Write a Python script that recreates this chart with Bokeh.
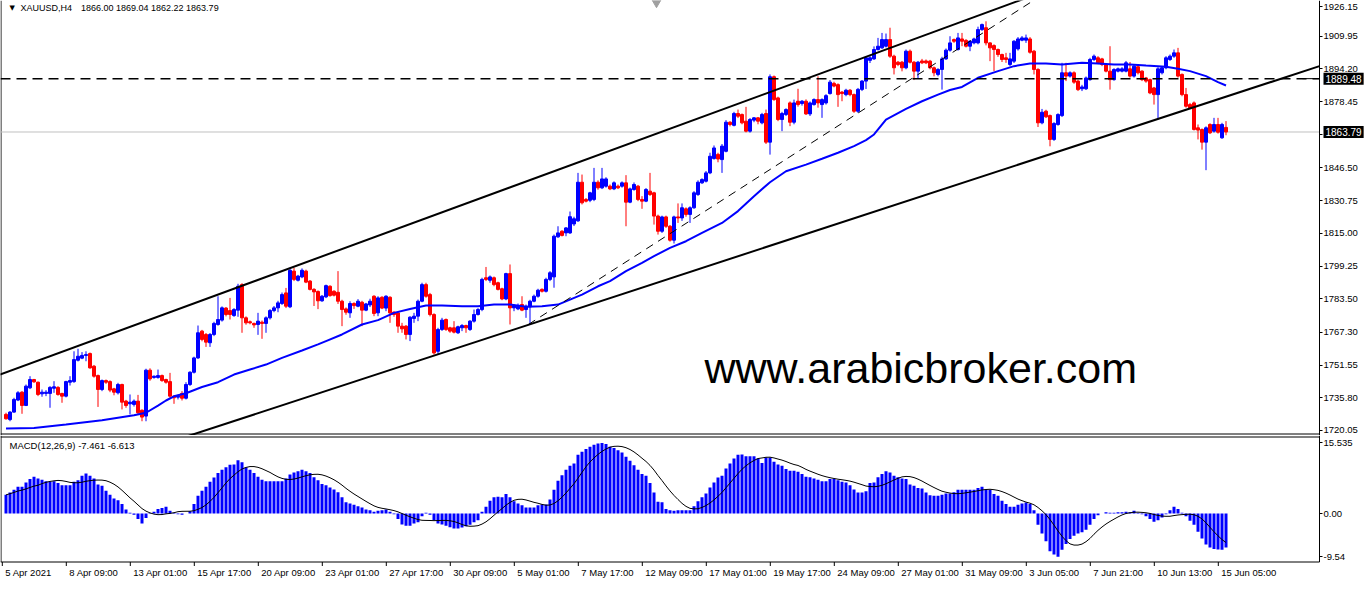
import json
import numpy as np
import pandas as pd
from bokeh.plotting import figure
from bokeh.layouts import column
from bokeh.models import (Range1d, FixedTicker, Label, ColumnDataSource, LinearAxis,
                          CustomJSTickFormatter)
from bokeh.embed import file_html
from bokeh.resources import INLINE

# ---------------- data (XAUUSD H4) ----------------
open_ = [
    1727.8, 1725.3, 1728.9, 1734.7, 1738.5, 1732.1, 1740.6, 1744.6, 1743.3, 1737.7,
    1737.9, 1737.9, 1740.4, 1740.8, 1737.9, 1736.6, 1743.3, 1743.6, 1753.9, 1754.9,
    1756.2, 1757.1, 1751.0, 1746.5, 1739.8, 1744.1, 1743.6, 1740.1, 1738.2, 1742.2,
    1734.2, 1732.9, 1732.6, 1734.2, 1729.8, 1727.0, 1749.1, 1745.6, 1745.6, 1746.5,
    1744.6, 1743.6, 1736.6, 1736.1, 1737.9, 1735.6, 1742.2, 1748.1, 1755.0, 1767.9,
    1766.3, 1762.3, 1766.3, 1771.1, 1773.2, 1779.0, 1777.8, 1775.4, 1778.0, 1790.3,
    1774.3, 1772.4, 1771.6, 1771.1, 1772.2, 1771.6, 1774.3, 1777.8, 1779.1, 1781.2,
    1786.3, 1779.6, 1796.8, 1792.4, 1794.0, 1796.8, 1792.0, 1788.0, 1787.0, 1782.5,
    1784.4, 1789.5, 1787.1, 1786.6, 1782.3, 1778.6, 1776.7, 1781.2, 1779.9, 1781.8,
    1778.0, 1780.5, 1784.7, 1776.7, 1784.2, 1779.0, 1784.2, 1777.0, 1776.7, 1770.3,
    1770.3, 1766.3, 1774.0, 1775.1, 1782.3, 1790.3, 1785.5, 1775.9, 1758.2, 1768.7,
    1773.5, 1769.5, 1769.5, 1767.1, 1769.5, 1770.6, 1768.7, 1772.7, 1775.9, 1778.3,
    1793.6, 1792.4, 1793.6, 1791.2, 1788.3, 1783.4, 1795.6, 1779.1, 1778.6, 1780.7,
    1778.3, 1779.6, 1782.3, 1784.7, 1788.0, 1787.1, 1792.8, 1794.0, 1813.3, 1816.0,
    1815.2, 1815.2, 1819.5, 1821.0, 1839.6, 1831.3, 1830.9, 1831.3, 1839.6, 1836.9,
    1837.7, 1837.7, 1836.4, 1837.7, 1837.7, 1839.3, 1830.0, 1836.1, 1837.7, 1831.3,
    1830.5, 1835.3, 1834.5, 1823.3, 1816.0, 1822.9, 1818.4, 1811.7, 1822.9, 1822.4,
    1826.8, 1824.1, 1827.3, 1833.7, 1839.3, 1840.1, 1844.1, 1851.0, 1853.0, 1850.5,
    1854.5, 1868.5, 1867.0, 1872.7, 1872.2, 1869.0, 1864.2, 1869.5, 1870.6, 1868.2,
    1872.7, 1858.9, 1890.4, 1880.2, 1869.8, 1872.2, 1877.8, 1868.5, 1878.6, 1877.5,
    1878.6, 1872.5, 1877.0, 1879.4, 1877.0, 1877.8, 1882.3, 1887.2, 1886.6, 1883.0,
    1881.8, 1883.9, 1881.8, 1873.8, 1884.3, 1888.3, 1898.3, 1899.0, 1903.5, 1904.3,
    1905.1, 1908.3, 1900.3, 1897.4, 1897.4, 1894.7, 1902.7, 1897.4, 1893.1, 1898.0,
    1898.0, 1897.9, 1894.7, 1891.5, 1893.9, 1899.0, 1903.2, 1908.3, 1903.5, 1908.6,
    1907.9, 1905.1, 1906.7, 1906.7, 1913.1, 1914.0, 1906.7, 1905.4, 1903.5, 1901.1,
    1899.5, 1896.3, 1897.9, 1903.8, 1908.0, 1908.0, 1908.6, 1902.7, 1893.9, 1868.2,
    1873.8, 1871.7, 1860.2, 1867.4, 1871.7, 1892.3, 1890.7, 1892.3, 1888.3, 1884.6,
    1884.6, 1889.0, 1898.7, 1899.5, 1899.0, 1896.3, 1893.1, 1889.0, 1893.1, 1893.1,
    1893.1, 1894.2, 1890.7, 1895.2, 1893.1, 1889.8, 1889.0, 1885.0, 1881.8, 1892.3,
    1894.7, 1898.7, 1900.3, 1901.9, 1891.5, 1881.8, 1877.0, 1877.8, 1865.8, 1865.0,
    1858.9, 1867.4, 1864.2, 1867.4, 1861.0, 1866.00]

high = [
    1728.6, 1729.4, 1735.8, 1739.0, 1739.0, 1742.2, 1746.2, 1744.9, 1743.6, 1739.8,
    1739.5, 1741.4, 1743.8, 1741.4, 1738.2, 1744.0, 1746.2, 1758.2, 1759.4, 1757.8,
    1758.2, 1757.6, 1751.6, 1747.0, 1744.6, 1744.6, 1744.2, 1740.6, 1743.0, 1742.6,
    1734.8, 1737.4, 1735.0, 1737.2, 1730.2, 1749.8, 1750.0, 1746.5, 1749.4, 1747.0,
    1745.0, 1747.8, 1737.0, 1737.2, 1739.0, 1743.3, 1748.6, 1755.6, 1770.6, 1768.5,
    1767.0, 1767.0, 1772.4, 1784.7, 1779.8, 1779.5, 1783.9, 1779.0, 1790.7, 1791.0,
    1775.0, 1773.0, 1772.0, 1776.7, 1773.0, 1775.0, 1778.5, 1780.0, 1782.5, 1786.5,
    1788.7, 1798.4, 1798.4, 1795.0, 1798.1, 1797.5, 1792.5, 1788.6, 1787.5, 1785.3,
    1790.3, 1790.0, 1787.6, 1796.8, 1783.0, 1779.3, 1782.3, 1781.8, 1783.3, 1782.5,
    1781.5, 1783.5, 1785.2, 1784.7, 1784.7, 1785.2, 1784.7, 1777.5, 1777.0, 1771.9,
    1770.8, 1775.1, 1776.7, 1783.1, 1791.2, 1791.2, 1786.3, 1776.5, 1769.5, 1774.3,
    1774.0, 1770.0, 1772.7, 1770.5, 1771.3, 1771.0, 1773.2, 1778.3, 1779.0, 1793.6,
    1798.8, 1794.7, 1794.2, 1791.7, 1788.8, 1796.0, 1800.0, 1780.7, 1781.2, 1784.7,
    1780.7, 1783.0, 1785.5, 1788.3, 1788.5, 1793.6, 1796.8, 1814.4, 1818.4, 1816.5,
    1818.0, 1825.5, 1823.0, 1844.1, 1843.3, 1832.0, 1835.0, 1846.5, 1840.5, 1846.5,
    1842.0, 1838.5, 1840.0, 1838.5, 1840.0, 1843.0, 1837.0, 1839.5, 1838.3, 1832.9,
    1836.8, 1844.1, 1835.0, 1824.0, 1823.5, 1823.5, 1819.0, 1823.5, 1829.4, 1829.4,
    1827.5, 1828.0, 1835.3, 1840.5, 1841.5, 1845.0, 1853.8, 1857.3, 1853.8, 1858.0,
    1869.5, 1869.0, 1873.5, 1874.6, 1872.7, 1875.9, 1870.5, 1871.0, 1871.0, 1873.0,
    1874.6, 1891.5, 1891.0, 1880.8, 1873.5, 1875.2, 1878.5, 1879.4, 1884.6, 1879.2,
    1879.5, 1878.5, 1880.0, 1890.6, 1880.0, 1882.0, 1888.8, 1888.0, 1887.2, 1883.5,
    1884.6, 1884.5, 1882.3, 1885.0, 1888.8, 1900.1, 1900.5, 1905.0, 1909.1, 1911.5,
    1911.2, 1914.0, 1901.0, 1898.0, 1898.0, 1903.5, 1903.5, 1898.0, 1898.0, 1899.0,
    1898.7, 1898.5, 1895.3, 1894.5, 1900.0, 1904.0, 1909.9, 1908.8, 1911.5, 1911.5,
    1908.5, 1908.0, 1909.2, 1914.5, 1916.0, 1917.1, 1907.0, 1906.0, 1904.0, 1901.5,
    1901.9, 1901.9, 1908.0, 1909.5, 1910.0, 1910.7, 1909.5, 1903.3, 1894.5, 1874.9,
    1874.5, 1872.2, 1868.5, 1872.8, 1897.1, 1897.1, 1893.0, 1893.0, 1889.0, 1886.5,
    1890.5, 1899.5, 1901.1, 1900.3, 1899.5, 1896.8, 1905.1, 1894.5, 1894.8, 1895.0,
    1898.0, 1897.5, 1896.5, 1895.8, 1893.5, 1890.3, 1889.5, 1885.5, 1895.0, 1895.5,
    1900.3, 1901.1, 1903.5, 1904.3, 1892.0, 1885.0, 1877.8, 1878.5, 1867.4, 1865.5,
    1866.5, 1868.0, 1870.6, 1870.6, 1868.2, 1869.04]

low = [
    1725.3, 1724.5, 1728.6, 1734.2, 1728.1, 1731.8, 1740.0, 1743.0, 1736.6, 1736.3,
    1736.6, 1731.0, 1738.2, 1736.8, 1733.4, 1736.0, 1741.7, 1743.0, 1753.3, 1754.4,
    1753.4, 1749.8, 1745.5, 1731.4, 1739.0, 1742.5, 1738.5, 1737.0, 1737.4, 1730.2,
    1731.0, 1727.8, 1731.6, 1727.8, 1724.5, 1724.5, 1744.0, 1745.0, 1745.0, 1743.5,
    1742.6, 1735.8, 1732.9, 1735.0, 1734.5, 1735.0, 1741.5, 1747.5, 1754.5, 1763.0,
    1760.3, 1760.3, 1765.5, 1770.5, 1772.5, 1775.0, 1773.5, 1774.8, 1774.8, 1767.1,
    1771.0, 1771.2, 1769.5, 1766.1, 1764.2, 1767.1, 1773.5, 1777.0, 1777.0, 1780.5,
    1779.0, 1779.0, 1792.0, 1791.8, 1793.4, 1791.0, 1787.5, 1780.0, 1778.5, 1782.0,
    1783.8, 1784.5, 1784.6, 1781.0, 1770.3, 1775.8, 1774.3, 1778.6, 1779.4, 1770.3,
    1777.5, 1779.5, 1775.1, 1775.1, 1778.5, 1777.5, 1771.9, 1774.8, 1767.1, 1767.1,
    1763.9, 1763.1, 1771.9, 1772.7, 1781.8, 1784.0, 1775.0, 1756.6, 1756.6, 1768.0,
    1768.0, 1767.1, 1766.8, 1766.5, 1767.9, 1767.1, 1768.0, 1772.0, 1775.4, 1777.5,
    1792.0, 1791.2, 1789.5, 1787.5, 1782.8, 1782.8, 1771.1, 1777.5, 1778.0, 1777.5,
    1774.3, 1771.1, 1781.8, 1784.0, 1786.5, 1786.5, 1792.0, 1788.8, 1812.8, 1813.5,
    1813.6, 1814.7, 1818.5, 1820.5, 1828.9, 1829.9, 1830.0, 1830.5, 1836.0, 1836.3,
    1837.0, 1835.8, 1835.8, 1836.3, 1837.0, 1818.4, 1829.5, 1835.5, 1830.5, 1826.8,
    1830.0, 1833.0, 1819.2, 1814.4, 1815.2, 1817.6, 1811.0, 1810.1, 1820.0, 1821.0,
    1823.0, 1820.0, 1826.8, 1833.0, 1838.8, 1839.5, 1843.5, 1850.5, 1849.2, 1844.1,
    1854.0, 1866.5, 1866.5, 1870.5, 1867.5, 1863.6, 1863.5, 1868.5, 1867.5, 1867.5,
    1858.0, 1852.9, 1878.8, 1869.0, 1864.2, 1871.5, 1866.6, 1867.5, 1876.0, 1876.5,
    1872.0, 1871.5, 1876.5, 1875.5, 1870.6, 1877.0, 1881.8, 1885.3, 1875.9, 1878.6,
    1881.0, 1881.0, 1873.0, 1873.0, 1883.5, 1884.5, 1897.0, 1898.5, 1903.0, 1903.8,
    1904.5, 1899.5, 1891.5, 1895.5, 1893.0, 1894.0, 1896.8, 1888.8, 1889.4, 1896.5,
    1896.5, 1894.0, 1890.6, 1890.6, 1884.2, 1898.5, 1902.5, 1906.7, 1903.0, 1905.1,
    1904.5, 1902.7, 1906.0, 1906.0, 1912.5, 1905.5, 1897.9, 1893.1, 1900.0, 1897.5,
    1897.1, 1895.5, 1897.0, 1903.0, 1907.5, 1906.7, 1901.5, 1891.5, 1866.2, 1867.5,
    1870.5, 1856.9, 1859.5, 1866.8, 1871.0, 1888.3, 1890.0, 1887.0, 1883.5, 1883.5,
    1884.0, 1888.5, 1898.0, 1896.5, 1895.5, 1892.5, 1884.2, 1888.5, 1892.5, 1892.5,
    1892.5, 1890.0, 1890.0, 1891.5, 1888.3, 1887.5, 1882.0, 1877.0, 1869.8, 1891.5,
    1894.0, 1898.0, 1899.5, 1890.0, 1881.0, 1875.5, 1874.8, 1864.5, 1860.2, 1855.3,
    1845.4, 1862.8, 1863.5, 1863.0, 1860.5, 1862.22]

close = [
    1725.7, 1728.9, 1735.0, 1738.2, 1732.1, 1741.4, 1744.6, 1743.5, 1737.4, 1738.5,
    1738.5, 1740.8, 1741.1, 1737.4, 1736.6, 1743.6, 1744.1, 1754.2, 1755.8, 1756.2,
    1756.6, 1750.2, 1746.2, 1739.8, 1744.1, 1743.3, 1739.5, 1738.5, 1742.2, 1733.7,
    1732.1, 1733.7, 1734.2, 1728.6, 1726.5, 1749.1, 1744.9, 1746.2, 1746.5, 1744.1,
    1743.3, 1736.6, 1735.8, 1736.6, 1735.6, 1742.2, 1748.1, 1755.0, 1767.1, 1763.9,
    1762.6, 1766.3, 1771.6, 1773.5, 1779.1, 1775.9, 1775.9, 1778.3, 1789.5, 1774.3,
    1771.9, 1771.9, 1770.9, 1772.7, 1771.6, 1774.3, 1777.8, 1779.1, 1781.5, 1785.5,
    1779.9, 1797.2, 1792.8, 1794.4, 1797.2, 1791.5, 1788.0, 1786.8, 1782.5, 1784.7,
    1789.8, 1785.0, 1785.2, 1782.3, 1778.3, 1777.0, 1781.2, 1780.2, 1782.3, 1778.0,
    1781.0, 1782.3, 1776.4, 1783.9, 1779.0, 1784.7, 1776.7, 1775.9, 1770.3, 1769.0,
    1766.3, 1774.6, 1775.1, 1782.3, 1790.3, 1784.7, 1775.9, 1757.4, 1768.7, 1773.2,
    1768.7, 1767.9, 1767.4, 1770.0, 1770.6, 1769.5, 1772.7, 1775.9, 1778.3, 1792.8,
    1792.8, 1794.0, 1790.3, 1788.0, 1783.4, 1795.6, 1779.1, 1780.2, 1779.9, 1778.0,
    1779.9, 1782.3, 1784.7, 1787.6, 1787.1, 1792.8, 1796.0, 1813.6, 1815.2, 1814.0,
    1817.6, 1823.0, 1822.0, 1839.6, 1829.7, 1830.5, 1834.5, 1839.6, 1836.9, 1841.2,
    1841.2, 1836.4, 1839.3, 1836.9, 1839.3, 1830.0, 1836.4, 1838.5, 1831.3, 1830.5,
    1836.1, 1833.7, 1823.3, 1816.0, 1822.9, 1818.4, 1811.7, 1822.9, 1822.4, 1827.3,
    1824.1, 1827.3, 1834.5, 1839.6, 1840.9, 1844.1, 1852.1, 1856.1, 1850.8, 1857.0,
    1868.5, 1867.4, 1872.7, 1871.4, 1868.2, 1864.2, 1869.8, 1870.6, 1869.0, 1872.2,
    1858.9, 1890.4, 1879.4, 1869.8, 1872.7, 1874.6, 1868.5, 1877.8, 1877.0, 1878.6,
    1872.5, 1877.8, 1879.4, 1877.8, 1879.4, 1881.3, 1887.8, 1885.9, 1881.8, 1882.3,
    1883.9, 1881.8, 1873.8, 1884.3, 1888.3, 1899.5, 1899.5, 1903.5, 1905.1, 1908.3,
    1908.3, 1900.3, 1894.7, 1896.3, 1894.7, 1902.7, 1897.4, 1893.1, 1897.4, 1897.1,
    1897.1, 1894.7, 1892.3, 1893.9, 1899.0, 1903.2, 1906.7, 1907.5, 1909.1, 1907.5,
    1905.1, 1907.5, 1908.6, 1913.1, 1915.5, 1906.7, 1904.3, 1903.5, 1901.1, 1898.7,
    1898.7, 1899.0, 1907.5, 1908.6, 1909.1, 1909.1, 1902.2, 1893.9, 1868.2, 1873.3,
    1871.1, 1860.2, 1867.9, 1872.2, 1892.3, 1890.7, 1892.3, 1887.8, 1884.2, 1885.5,
    1889.8, 1898.7, 1900.3, 1897.1, 1896.3, 1893.1, 1889.0, 1893.9, 1894.2, 1894.2,
    1897.1, 1890.7, 1895.5, 1892.3, 1889.0, 1888.3, 1882.6, 1881.8, 1894.2, 1894.7,
    1899.5, 1900.3, 1901.9, 1890.7, 1881.8, 1876.2, 1875.4, 1865.0, 1864.7, 1858.9,
    1865.8, 1863.4, 1867.4, 1863.7, 1867.4, 1863.79]

# MACD(12,26,9) main line (drawn as histogram)
macd = [
    4.1, 4.6, 5.2, 5.9, 5.9, 6.8, 7.6, 8.1, 7.7, 7.4,
    7.1, 7.0, 7.1, 6.7, 6.2, 6.2, 6.2, 7.0, 7.3, 8.3,
    8.8, 8.3, 7.7, 6.4, 6.1, 5.0, 4.1, 3.3, 2.9, 2.1,
    0.9, 0.15, -0.3, -1.2, -2.2, -1.0, -0.1, 0.4, 1.0, 1.2,
    1.5, 0.6, 0.15, -0.15, -0.3, 0.0, 0.5, 2.1, 3.9, 5.0,
    5.9, 7.0, 7.9, 8.9, 9.6, 10.2, 10.7, 10.8, 11.7, 11.3,
    10.1, 9.6, 8.9, 8.1, 7.4, 7.1, 7.1, 7.1, 7.1, 7.1,
    7.7, 8.6, 9.0, 9.3, 9.6, 9.3, 8.9, 8.0, 7.3, 6.5,
    6.2, 5.7, 5.3, 4.7, 3.6, 2.5, 2.2, 1.9, 1.6, 1.3,
    0.9, 0.7, 0.4, 0.6, 0.7, 0.9, 0.4, -0.15, -1.2, -2.4,
    -2.7, -2.7, -2.2, -1.9, -0.6, 0.15, -0.3, -1.5, -2.2, -2.4,
    -2.7, -3.0, -3.3, -3.3, -3.1, -2.8, -2.5, -1.9, -1.5, 0.4,
    1.5, 2.8, 3.6, 3.7, 3.6, 4.3, 3.6, 2.7, 2.2, 1.8,
    1.3, 1.3, 1.3, 1.8, 2.0, 2.0, 3.1, 5.2, 7.2, 8.4,
    9.6, 10.5, 11.0, 12.9, 13.6, 14.2, 14.7, 15.1, 15.4, 15.535,
    15.3, 14.7, 14.4, 13.9, 13.4, 12.5, 11.6, 10.6, 9.6, 8.7,
    8.3, 6.7, 4.6, 2.6, 2.5, 1.0, 0.7, 0.6, 0.7, 0.7,
    0.7, 0.7, 1.6, 2.7, 3.6, 4.4, 5.7, 6.8, 7.9, 8.3,
    9.9, 11.0, 12.1, 12.9, 13.0, 12.6, 12.6, 12.6, 12.1, 11.1,
    12.3, 12.3, 11.4, 10.8, 10.5, 9.8, 9.4, 9.4, 9.2, 8.7,
    8.1, 8.0, 7.7, 7.4, 7.1, 7.1, 7.6, 7.6, 7.3, 7.0,
    6.8, 6.2, 5.3, 4.6, 4.6, 4.9, 6.7, 6.8, 8.0, 8.7,
    9.3, 9.0, 8.3, 8.0, 7.7, 7.6, 6.4, 6.1, 5.6, 5.5,
    4.6, 4.0, 3.9, 3.9, 4.1, 4.4, 4.4, 4.7, 5.2, 5.2,
    5.2, 5.2, 5.2, 5.6, 5.9, 5.3, 5.2, 4.3, 3.9, 2.8,
    2.1, 1.5, 1.5, 1.9, 2.2, 2.4, 2.1, 0.7, -2.5, -4.4,
    -6.1, -8.3, -9.0, -9.54, -8.0, -6.7, -5.6, -4.9, -4.4, -4.1,
    -3.6, -2.5, -1.2, -0.4, 0.0, 0.3, 0.15, 0.15, 0.3, 0.3,
    0.4, 0.3, 0.6, 0.15, -0.15, -0.6, -1.2, -1.8, -1.5, -0.9,
    -0.15, 0.7, 1.5, 1.0, 0.15, -0.6, -1.6, -2.5, -4.0, -5.5,
    -6.8, -7.5, -7.8, -7.9, -8.0, -7.461]

# blue moving average, read at sample candles
ma_idx = [0, 7, 15, 24, 28, 32, 35, 38, 40, 42, 45, 49, 53, 57, 61, 65, 69, 74, 78, 80,
          84, 89, 93, 97, 101, 105, 109, 114, 118, 122, 126, 130, 134, 138, 141, 144, 148,
          151, 155, 159, 162, 166, 170, 174, 179, 183, 187, 191, 195, 200, 204, 208, 212,
          215, 217, 220, 225, 229, 233, 236, 239, 243, 248, 252, 256, 260, 264, 269, 273,
          277, 281, 285, 290, 293, 296, 300, 303, 305]
ma_val = [1721.0, 1721.3, 1722.9, 1725.0, 1726.2, 1727.4, 1728.6, 1732.0, 1734.5, 1736.5,
          1738.0, 1741.0, 1743.3, 1747.0, 1749.4, 1751.8, 1755.0, 1758.6, 1761.5, 1763.1,
          1766.3, 1771.1, 1773.2, 1776.7, 1778.6, 1780.2, 1780.2, 1779.9, 1779.9, 1780.7,
          1780.7, 1779.6, 1779.9, 1780.7, 1783.1, 1785.5, 1789.5, 1792.0, 1796.8, 1800.8,
          1804.0, 1808.0, 1811.2, 1815.2, 1820.0, 1825.7, 1832.9, 1839.6, 1844.9, 1848.1,
          1850.9, 1853.8, 1857.0, 1859.9, 1862.6, 1869.8, 1874.9, 1878.6, 1881.8, 1884.0,
          1885.5, 1889.9, 1893.1, 1895.5, 1896.8, 1896.8, 1896.3, 1897.1, 1896.8, 1896.3,
          1896.3, 1895.8, 1895.2, 1894.2, 1893.1, 1890.7, 1887.8, 1886.2]

# trend lines drawn on the chart (anchor candle index, price)
upper_x, upper_y = [-1.5, 260.0], [1747.0, 1931.8]
lower_x, lower_y = [45.0, 328.375], [1717.06, 1895.5]
thin_x, thin_y = [130.6, 258.0], [1771.1, 1928.5]
level_price = 1889.48
bid_price = 1863.79

price_ticks = [1926.15, 1909.95, 1894.20, 1878.45, 1862.70, 1846.50, 1830.75,
               1815.00, 1799.25, 1783.50, 1767.30, 1751.55, 1735.80, 1720.05]
macd_ticks = [15.535, 0.0, -9.54]
macd_tick_labels = ["15.535", "0.00", "-9.54"]
time_labels = ["5 Apr 2021", "8 Apr 09:00", "13 Apr 01:00", "15 Apr 17:00", "20 Apr 09:00",
               "23 Apr 01:00", "27 Apr 17:00", "30 Apr 09:00", "5 May 01:00", "7 May 17:00",
               "12 May 09:00", "17 May 01:00", "19 May 17:00", "24 May 09:00", "27 May 01:00",
               "31 May 09:00", "3 Jun 05:00", "7 Jun 21:00", "10 Jun 13:00", "15 Jun 05:00"]
header_symbol = "XAUUSD,H4"
header_values = "1866.00 1869.04 1862.22 1863.79"
macd_title = "MACD(12,26,9) -7.461 -6.613"
watermark = "www.arabicbroker.com"

# ---------------- geometry ----------------
FONT = "Liberation Sans"
BLUE = "#0000ff"
RED = "#ff0000"
W = 1366
H1 = 435            # main panel canvas height (frame fills it)
H2 = 159            # MACD panel + time axis
F2 = 131            # MACD frame height
PX_PER_BAR = 4.0
A = -1.375          # x value at the left edge
X_END = A + W / PX_PER_BAR
AX_X = A + 1319 / PX_PER_BAR   # price axis position


def xd(px):
    return A + px / PX_PER_BAR


Y_TOP = 1927.11
PY = 2.0767          # px per dollar


def yp(px):
    return Y_TOP - px / PY


M_ZERO = 513 - H1    # zero line px inside the MACD frame
MY = 4.546           # px per MACD unit


def yv(px):
    return (M_ZERO - px) / MY


def nearest_formatter(vals, labs):
    code = ("const vals = %s; const labs = %s; let k = 0, best = Infinity;"
            "for (let i = 0; i < vals.length; i++) { const d = Math.abs(vals[i] - tick);"
            " if (d < best) { best = d; k = i; } } return labs[k];") % (json.dumps(vals), json.dumps(labs))
    return CustomJSTickFormatter(code=code)


def style_axis(ax, size="9.5px"):
    ax.axis_line_color = "black"
    ax.major_tick_line_color = "black"
    ax.major_tick_out = 3
    ax.major_tick_in = 0
    ax.minor_tick_line_color = None
    ax.major_label_text_font = FONT
    ax.major_label_text_font_size = size
    ax.major_label_text_color = "black"
    ax.major_label_standoff = 1


n = len(close)
xi = np.arange(n)
o = np.array(open_)
c = np.array(close)
h = np.array(high)
lo = np.array(low)
col = np.where(c >= o, BLUE, RED)
src = ColumnDataSource(dict(x=xi, h=h, l=lo, top=np.maximum(o, c), bot=np.minimum(o, c), col=col))
signal = pd.Series(macd).rolling(9, min_periods=1).mean().to_numpy()

XR = Range1d(A, X_END)

# ---------------- main price panel ----------------
p = figure(width=W, height=H1, x_range=XR, y_range=Range1d(yp(H1), yp(0)),
           output_backend="svg", toolbar_location=None, x_axis_location=None,
           y_axis_location=None, min_border=0,
           background_fill_color="white", border_fill_color="white")
p.xgrid.visible = False
p.ygrid.visible = False
p.outline_line_color = None

# price axis at its own position on the right
tick_show = list(price_ticks)
tick_show[0] = min(price_ticks[0], yp(6))
tick_show[-1] = max(price_ticks[-1], yp(429.5))
ya = LinearAxis(fixed_location=AX_X, ticker=FixedTicker(ticks=tick_show),
                formatter=nearest_formatter(tick_show, [f"{t:.2f}" for t in price_ticks]))
style_axis(ya)
p.add_layout(ya, "right")

# frame borders
p.line([xd(0.5), xd(0.5)], [yp(0), yp(H1)], line_color="black", line_width=1)
p.line([A, AX_X], [yp(433.5), yp(433.5)], line_color="black", line_width=1)

# current bid line
p.line([A, AX_X], [bid_price, bid_price], line_color="#c0c0c0", line_width=1)
# candles
p.segment(x0="x", y0="h", x1="x", y1="l", source=src, line_color="col", line_width=1)
p.vbar(x="x", width=0.75, top="top", bottom="bot", source=src,
       fill_color="col", line_color="col", line_width=1)
# moving average and drawn objects
p.line(ma_idx, ma_val, line_color=BLUE, line_width=2)
p.line(upper_x, upper_y, line_color="black", line_width=2)
p.line(lower_x, lower_y, line_color="black", line_width=2)
p.line(thin_x, thin_y, line_color="black", line_width=1, line_dash="8 6")
p.line([A, AX_X], [level_price, level_price], line_color="black", line_width=1.5,
       line_dash="10 6")
p.line([xd(1302), AX_X], [level_price, level_price], line_color="black", line_width=1)
# chart-shift marker
p.scatter([xd(656)], [yp(2)], marker="inverted_triangle", size=9,
          fill_color="#a0a0a0", line_color="#a0a0a0")

p.add_layout(Label(x=9, y=H1 - 7, x_units="screen", y_units="screen", text="\u25bc",
                   text_font="DejaVu Sans", text_font_size="7px", text_baseline="middle",
                   text_color="black"))
p.add_layout(Label(x=20, y=H1 - 7, x_units="screen", y_units="screen", text=header_symbol,
                   text_font=FONT, text_font_size="9px", text_baseline="middle",
                   text_color="black"))
p.add_layout(Label(x=80.5, y=H1 - 7, x_units="screen", y_units="screen", text=header_values,
                   text_font=FONT, text_font_size="9px", text_baseline="middle",
                   text_color="black"))
p.add_layout(Label(x=704, y=68, x_units="screen", y_units="screen", text=watermark,
                   text_font=FONT, text_font_size="43px", text_baseline="alphabetic",
                   text_color="black"))
for pr in (level_price, bid_price):
    p.add_layout(Label(x=1323, y=pr, x_units="screen", y_units="data", text=f"{pr:.2f}",
                       text_font=FONT, text_font_size="10px", text_baseline="middle",
                       text_color="white", background_fill_color="black", padding=2))

# ---------------- MACD panel ----------------
p2 = figure(width=W, height=H2, x_range=XR, y_range=Range1d(yv(F2), yv(0)),
            output_backend="svg", toolbar_location=None, x_axis_location=None,
            y_axis_location=None, min_border=0, min_border_bottom=H2 - F2,
            background_fill_color="white", border_fill_color="white")
p2.xgrid.visible = False
p2.ygrid.visible = False
p2.outline_line_color = None

p2.vbar(x=xi, width=0.75, top=macd, bottom=0, fill_color=BLUE, line_color=None)
p2.line(xi, signal, line_color="black", line_width=1)

# panel borders and price-axis line
p2.line([A, AX_X], [yv(1.5), yv(1.5)], line_color="black", line_width=1)
p2.line([A, AX_X], [yv(126.5), yv(126.5)], line_color="black", line_width=1)
p2.line([xd(0.5), xd(0.5)], [yv(0), yv(126.5)], line_color="black", line_width=1)
p2.line([AX_X, AX_X], [yv(0), yv(126.5)], line_color="black", line_width=1)

ya2 = LinearAxis(fixed_location=AX_X, ticker=FixedTicker(ticks=macd_ticks),
                 formatter=nearest_formatter(macd_ticks, macd_tick_labels))
style_axis(ya2)
ya2.axis_line_color = None
p2.add_layout(ya2, "right")

# time ticks (short marks under the panel) and their labels
tick_pos = [16 * k - 0.925 for k in range(len(time_labels))]
p2.segment(x0=tick_pos, y0=[yv(126.5)] * len(tick_pos), x1=tick_pos,
           y1=[yv(130.5)] * len(tick_pos), line_color="black", line_width=1)

AW = {" ": 278, ":": 278, "A": 667, "p": 556, "r": 333, "M": 833, "a": 556, "y": 500,
      "J": 500, "u": 556, "n": 556}


def text_w(s, size):
    return sum(AW.get(ch, 556) for ch in s) * size / 1000.0


LBL = 9.5
centers = [t + (3 + text_w(s, LBL) / 2) / PX_PER_BAR for t, s in zip(tick_pos, time_labels)]
xa = LinearAxis(ticker=FixedTicker(ticks=centers), formatter=nearest_formatter(centers, time_labels))
style_axis(xa)
xa.axis_line_color = None
xa.major_tick_line_color = None
xa.major_tick_out = 0
xa.major_label_standoff = 0
p2.add_layout(xa, "below")

p2.add_layout(Label(x=9, y=F2 - 9.7, x_units="screen", y_units="screen", text=macd_title,
                    text_font=FONT, text_font_size="9.5px", text_baseline="middle",
                    text_color="black"))

layout = column(p, p2, spacing=0)
open("out.html", "w").write(file_html(layout, INLINE, "XAUUSD H4"))
